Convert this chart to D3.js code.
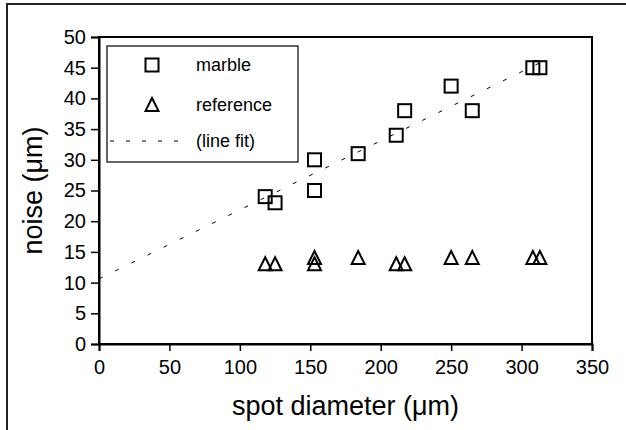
<!DOCTYPE html>
<html>
<head>
<meta charset="utf-8">
<script src="https://cdn.jsdelivr.net/npm/d3@7"></script>
<style>
  html, body { margin: 0; padding: 0; background: #fff; overflow: hidden; }
  text { font-family: "Liberation Sans", Arial, sans-serif; fill: #000; }
</style>
</head>
<body>
<svg id="chart" width="626" height="430"></svg>
<script>
// Data
const marbleX = [118, 125, 153, 153, 184, 211, 217, 250, 265, 308, 313];
const marbleY = [24, 23, 30, 25, 31, 34, 38, 42, 38, 45, 45];
const referenceX = [118, 125, 153, 153, 184, 211, 217, 250, 265, 308, 313];
const referenceY = [13, 13, 14, 13, 14, 13, 13, 14, 14, 14, 14];
const fitX = [0, 313];
const fitY = [10.6, 45.8];
const xTicks = [0, 50, 100, 150, 200, 250, 300, 350];
const yTicks = [0, 5, 10, 15, 20, 25, 30, 35, 40, 45, 50];
const legendLabels = ["marble", "reference", "(line fit)"];

const svg = d3.select("#chart");
const plot = { left: 99, right: 592, top: 37, bottom: 344 };

// outer frame (only left/top edges fall inside the picture)
svg.append("rect")
  .attr("x", 7).attr("y", 4)
  .attr("width", 800).attr("height", 600)
  .attr("fill", "none").attr("stroke", "#222").attr("stroke-width", 2);

const x = d3.scaleLinear().domain([0, 350]).range([plot.left, plot.right]);
const y = d3.scaleLinear().domain([0, 50]).range([plot.bottom, plot.top]);

// plot frame
svg.append("rect")
  .attr("x", plot.left).attr("y", plot.top)
  .attr("width", plot.right - plot.left).attr("height", plot.bottom - plot.top)
  .attr("fill", "none").attr("stroke", "#000").attr("stroke-width", 2);

// axes
const xAxis = svg.append("g")
  .attr("transform", `translate(0,${plot.bottom})`)
  .call(d3.axisBottom(x).tickValues(xTicks).tickSize(7).tickPadding(9).tickFormat(d3.format("d")));
const yAxis = svg.append("g")
  .attr("transform", `translate(${plot.left},0)`)
  .call(d3.axisLeft(y).tickValues(yTicks).tickSize(8).tickPadding(5).tickFormat(d3.format("d")));
[xAxis, yAxis].forEach(g => {
  g.select(".domain").attr("stroke", "#000").attr("stroke-width", 2);
  g.selectAll(".tick line").attr("stroke", "#000").attr("stroke-width", 1.5);
  g.selectAll(".tick text").style("font-family", '"Liberation Sans", Arial, sans-serif')
    .style("font-size", "20px").attr("fill", "#000");
});

// axis titles
svg.append("text")
  .attr("x", (plot.left + plot.right) / 2).attr("y", 415)
  .attr("text-anchor", "middle").style("font-size", "27px")
  .text("spot diameter (\u03bcm)");
svg.append("text")
  .attr("transform", `translate(42,${(plot.top + plot.bottom) / 2}) rotate(-90)`)
  .attr("text-anchor", "middle").style("font-size", "27px")
  .text("noise (\u03bcm)");

// line fit
const line = d3.line().x(d => x(d[0])).y(d => y(d[1]));
svg.append("path")
  .datum(d3.zip(fitX, fitY))
  .attr("d", line)
  .attr("fill", "none").attr("stroke", "#000").attr("stroke-width", 1)
  .attr("stroke-dasharray", "4,14");

const sq = 13;
const triPath = (cx, cy) => {
  const s = 13, h = 12;
  return `M${cx},${cy - h / 2 - 1}L${cx + s / 2},${cy + h / 2}L${cx - s / 2},${cy + h / 2}Z`;
};

// reference triangles
svg.append("g").selectAll("path")
  .data(d3.zip(referenceX, referenceY))
  .join("path")
  .attr("d", d => triPath(x(d[0]), y(d[1])))
  .attr("fill", "none").attr("stroke", "#000").attr("stroke-width", 2);

// marble squares
svg.append("g").selectAll("rect")
  .data(d3.zip(marbleX, marbleY))
  .join("rect")
  .attr("x", d => x(d[0]) - sq / 2).attr("y", d => y(d[1]) - sq / 2)
  .attr("width", sq).attr("height", sq)
  .attr("fill", "none").attr("stroke", "#000").attr("stroke-width", 2);

// legend
const lg = svg.append("g");
lg.append("rect")
  .attr("x", 107).attr("y", 46).attr("width", 191).attr("height", 116)
  .attr("fill", "#fff").attr("stroke", "#000").attr("stroke-width", 1.2);
const rowY = [65, 105, 141];
lg.append("rect")
  .attr("x", 152 - sq / 2).attr("y", rowY[0] - sq / 2).attr("width", sq).attr("height", sq)
  .attr("fill", "none").attr("stroke", "#000").attr("stroke-width", 2);
lg.append("path").attr("d", triPath(152, rowY[1]))
  .attr("fill", "none").attr("stroke", "#000").attr("stroke-width", 2);
lg.append("line")
  .attr("x1", 110).attr("x2", 182).attr("y1", rowY[2]).attr("y2", rowY[2])
  .attr("stroke", "#000").attr("stroke-width", 1).attr("stroke-dasharray", "4,12");
legendLabels.forEach((t, i) => {
  lg.append("text")
    .attr("x", 196).attr("y", rowY[i]).attr("dy", "0.35em")
    .style("font-size", "18px").text(t);
});
</script>
</body>
</html>
